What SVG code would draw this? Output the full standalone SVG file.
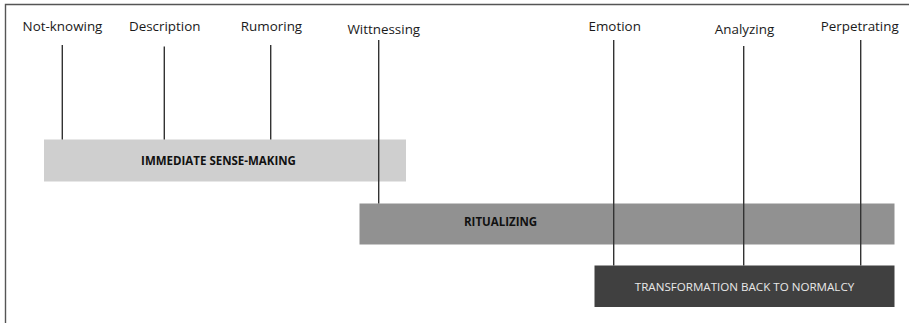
<svg xmlns="http://www.w3.org/2000/svg" width="909" height="323" viewBox="0 0 909 323">
<style>
.lbl{font-family:"Open Sans","Noto Sans",sans-serif;font-size:13.4px;fill:#1a1a1a;text-anchor:middle}
.bt{font-family:"Open Sans","Noto Sans",sans-serif;font-size:11.5px;font-weight:bold;fill:#111}
.wt{font-family:"Open Sans","Noto Sans",sans-serif;font-size:11.6px;fill:#e8e8e8;text-anchor:middle}
.ln{stroke:#333;stroke-width:1.4;fill:none}
</style>
<rect x="0" y="0" width="909" height="323" fill="#fff"/>
<path d="M5.5,323 V4.5 H909" stroke="#555" stroke-width="1.4" fill="none"/>
<g id="immediate">
<rect x="44" y="139.5" width="362" height="42" fill="#cfcfcf"/>
<text class="bt" x="218.5" y="165" text-anchor="middle">IMMEDIATE SENSE-MAKING</text>
</g>
<g id="ritualizing">
<rect x="359.5" y="203.5" width="535" height="41" fill="#919191"/>
<text class="bt" x="464" y="226">RITUALIZING</text>
</g>
<g id="transformation">
<rect x="594.5" y="265.5" width="300" height="41.5" fill="#404040"/>
<text class="wt" x="744.5" y="290.5">TRANSFORMATION BACK TO NORMALCY</text>
</g>
<g id="labels">
<text class="lbl" x="62.5" y="31">Not-knowing</text>
<text class="lbl" x="164.7" y="31">Description</text>
<text class="lbl" x="271.5" y="31">Rumoring</text>
<text class="lbl" x="383.8" y="34">Wittnessing</text>
<text class="lbl" x="614.7" y="31">Emotion</text>
<text class="lbl" x="744.5" y="34">Analyzing</text>
<text class="lbl" x="859.7" y="31">Perpetrating</text>
</g>
<g id="connectors">
<line class="ln" x1="62.3" y1="45" x2="62.3" y2="139.5"/>
<line class="ln" x1="164.3" y1="46.5" x2="164.3" y2="139.5"/>
<line class="ln" x1="270.7" y1="45" x2="270.7" y2="139.5"/>
<line class="ln" x1="378.7" y1="40" x2="378.7" y2="203.5"/>
<line class="ln" x1="613.7" y1="40" x2="613.7" y2="265.5"/>
<line class="ln" x1="743.7" y1="46" x2="743.7" y2="265.5"/>
<line class="ln" x1="860.7" y1="40" x2="860.7" y2="265.5"/>
</g>
</svg>
